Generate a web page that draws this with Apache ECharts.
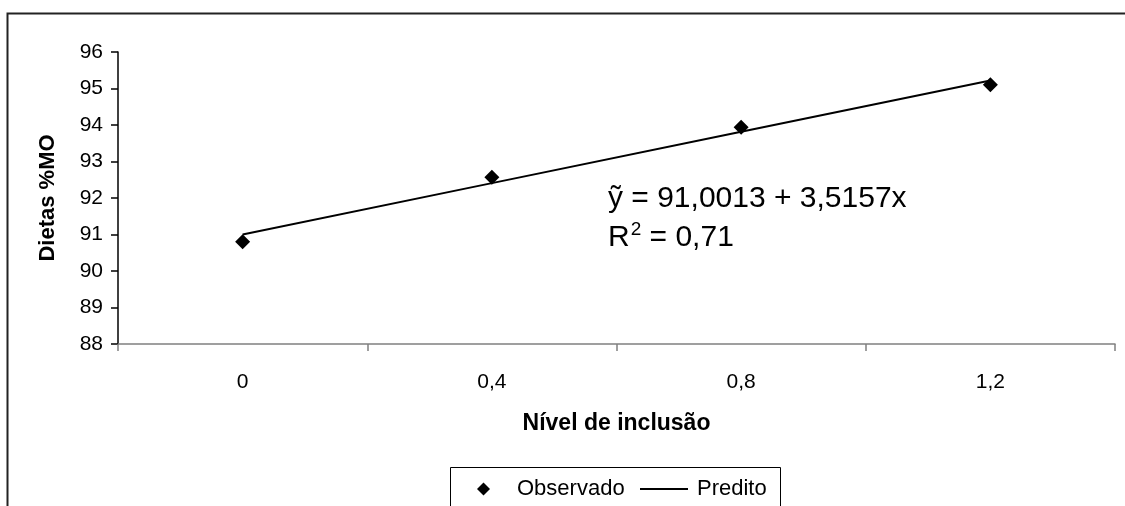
<!DOCTYPE html>
<html>
<head>
<meta charset="utf-8">
<script src="https://cdn.jsdelivr.net/npm/echarts@6/dist/echarts.min.js"></script>
<style>
  html, body { margin: 0; padding: 0; background: #fff; }
  #chart { width: 1125px; height: 506px; }
</style>
</head>
<body>
<div id="chart"></div>
<script>
// Inclusion levels (category axis) and measured / fitted organic matter (%MO)
const categories = ['0', '0,4', '0,8', '1,2'];
const observado = [90.80, 92.57, 93.94, 95.10];
// Fitted values of ỹ = 91,0013 + 3,5157x at each inclusion level
const predito = [91.0013, 92.4076, 93.8139, 95.2201];
const equationText = 'ỹ = 91,0013 + 3,5157x';
const r2Text = '0,71';

const FONT = '"Liberation Sans", Arial, sans-serif';

const chart = echarts.init(document.getElementById('chart'), null, { renderer: 'canvas' });

chart.setOption({
  animation: false,
  backgroundColor: '#ffffff',
  textStyle: { fontFamily: FONT, color: '#000' },
  grid: { left: 118, right: 10, top: 52, bottom: 162, containLabel: false },
  xAxis: {
    type: 'category',
    data: categories,
    boundaryGap: true,
    name: 'Nível de inclusão',
    nameLocation: 'middle',
    nameGap: 68,
    nameTextStyle: { fontFamily: FONT, fontSize: 23, fontWeight: 'bold', color: '#000' },
    axisLine: { show: true, lineStyle: { color: '#808080', width: 1.5 } },
    axisTick: { show: true, length: 7, alignWithLabel: false, lineStyle: { color: '#808080', width: 1.5 } },
    axisLabel: { fontFamily: FONT, fontSize: 21, color: '#000', margin: 28 },
    splitLine: { show: false }
  },
  yAxis: {
    type: 'value',
    min: 88,
    max: 96,
    interval: 1,
    name: 'Dietas %MO',
    nameLocation: 'middle',
    nameGap: 59,
    nameRotate: 90,
    nameTextStyle: { fontFamily: FONT, fontSize: 22, fontWeight: 'bold', color: '#000' },
    axisLine: { show: true, lineStyle: { color: '#000', width: 1.5 } },
    axisTick: { show: true, length: 7, lineStyle: { color: '#000', width: 1.5 } },
    axisLabel: { fontFamily: FONT, fontSize: 21, color: '#000', margin: 15 },
    splitLine: { show: false }
  },
  legend: [
    {
      left: 477,
      top: 478,
      itemWidth: 13,
      itemHeight: 13,
      padding: 0,
      textStyle: { fontFamily: FONT, fontSize: 22, color: '#000', padding: [0, 0, 0, 22] },
      data: [{ name: 'Observado', icon: 'diamond', itemStyle: { color: '#000', opacity: 1 } }]
    },
    {
      left: 640,
      top: 478,
      itemWidth: 48,
      itemHeight: 2,
      padding: 0,
      textStyle: { fontFamily: FONT, fontSize: 22, color: '#000', padding: [0, 0, 0, 4] },
      data: [{ name: 'Predito', icon: 'rect', itemStyle: { color: '#000' } }]
    }
  ],
  graphic: [
    {
      type: 'rect',
      z: -10,
      silent: true,
      shape: { x: 7.5, y: 13.5, width: 1200, height: 600 },
      style: { fill: 'none', stroke: '#222', lineWidth: 2 }
    },
    {
      type: 'rect',
      z: -5,
      silent: true,
      shape: { x: 450.5, y: 467.5, width: 330, height: 60 },
      style: { fill: '#fff', stroke: '#000', lineWidth: 1 }
    },
    {
      type: 'text',
      left: 608,
      top: 184,
      style: { text: equationText, font: '30px ' + FONT, fill: '#000' }
    },
    {
      type: 'text',
      left: 608,
      top: 220,
      style: {
        text: '{b|R}{s|2}{b| = ' + r2Text + '}',
        fill: '#000',
        rich: {
          b: { fontFamily: FONT, fontSize: 30, fill: '#000', lineHeight: 36 },
          s: { fontFamily: FONT, fontSize: 19, fill: '#000', verticalAlign: 'top', lineHeight: 30, padding: [0, 0, 0, 1] }
        }
      }
    }
  ],
  series: [
    {
      name: 'Predito',
      type: 'line',
      data: predito,
      symbol: 'none',
      showSymbol: false,
      lineStyle: { color: '#000', width: 2 },
      itemStyle: { color: '#000' },
      z: 2
    },
    {
      name: 'Observado',
      type: 'scatter',
      data: observado,
      symbol: 'diamond',
      symbolSize: 15,
      itemStyle: { color: '#000', opacity: 1 },
      z: 3
    }
  ]
});
</script>
</body>
</html>
